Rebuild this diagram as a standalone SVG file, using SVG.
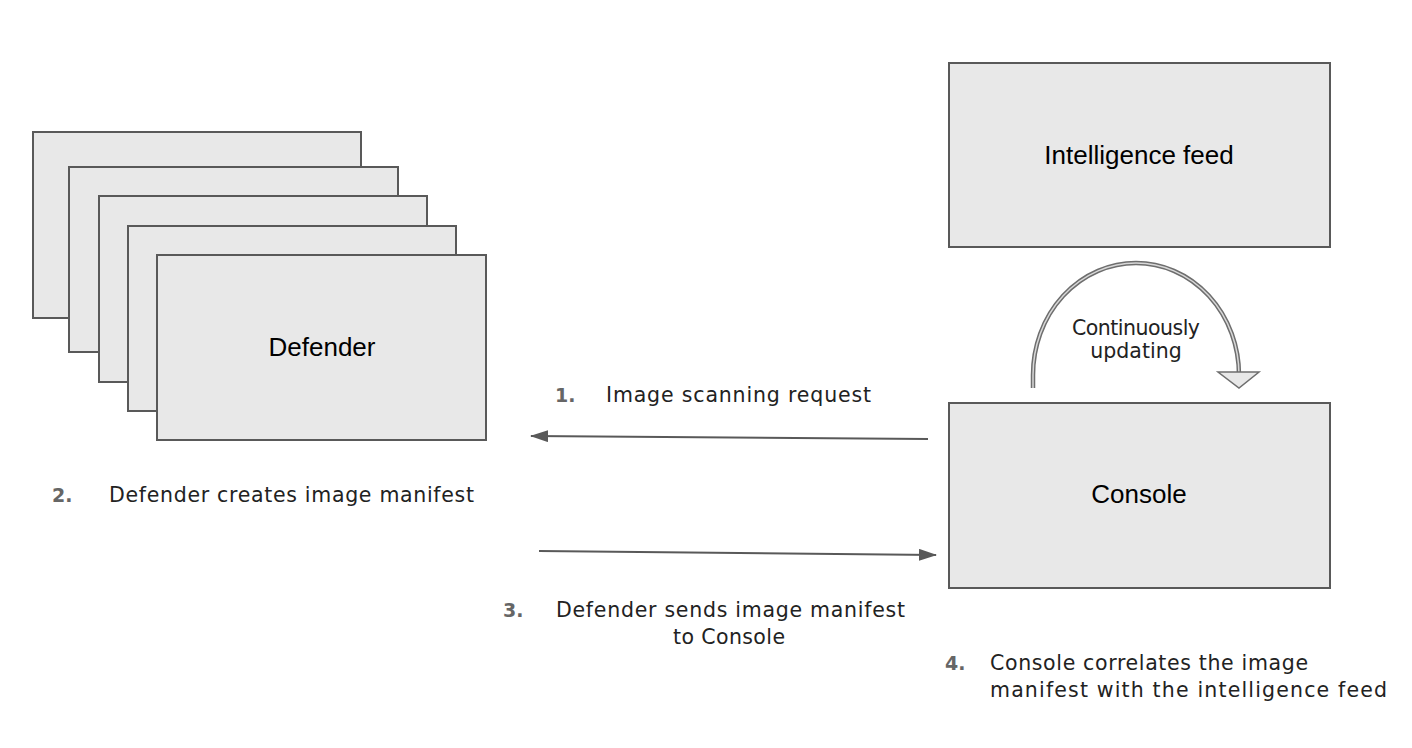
<svg xmlns="http://www.w3.org/2000/svg" width="1412" height="748" viewBox="0 0 1412 748">
<defs>
<style>
.box{fill:#e8e8e8;stroke:#595959;stroke-width:2}
.nl{font-family:"Liberation Sans",Arial,sans-serif;font-size:26px;fill:#000;text-anchor:middle}
.lbl{font-family:"DejaVu Sans","Open Sans",sans-serif;font-size:20.5px;fill:#222}
.num{font-family:"DejaVu Sans","Open Sans",sans-serif;font-size:19px;font-weight:bold;fill:#666}
.conn{stroke:#595959;stroke-width:2;fill:none}
</style>
<marker id="ah" markerWidth="18" markerHeight="12" refX="17" refY="6" orient="auto" markerUnits="userSpaceOnUse">
<path d="M0,0 L18,6 L0,12 Z" fill="#595959"/>
</marker>
</defs>
<rect width="1412" height="748" fill="#fff"/>
<g id="defender">
<rect class="box" x="33" y="132" width="328" height="186"/>
<rect class="box" x="69" y="167" width="329" height="185"/>
<rect class="box" x="99" y="196" width="328" height="186"/>
<rect class="box" x="128" y="226" width="328" height="185"/>
<rect class="box" x="157" y="255" width="329" height="185"/>
<text class="nl" x="322" y="356">Defender</text>
</g>
<g id="intel">
<rect class="box" x="949" y="63" width="381" height="184"/>
<text class="nl" x="1139" y="164">Intelligence feed</text>
</g>
<g id="console">
<rect class="box" x="949" y="403" width="381" height="185"/>
<text class="nl" x="1139" y="503">Console</text>
</g>
<g id="connectors">
<line class="conn" x1="928" y1="439" x2="531" y2="436" marker-end="url(#ah)"/>
<line class="conn" x1="539" y1="551" x2="936" y2="555" marker-end="url(#ah)"/>
<path d="M1033,388 L1033,375 A103,112 0 0 1 1239,375 L1239,372" fill="none" stroke="#6e6e6e" stroke-width="4.5"/>
<path d="M1033,388 L1033,375 A103,112 0 0 1 1239,375 L1239,373" fill="none" stroke="#d8d8d8" stroke-width="1.5"/>
<path d="M1218,372 L1259,372 L1239,388 Z" fill="#e8e8e8" stroke="#6e6e6e" stroke-width="1.5"/>
</g>
<g id="labels">
<text class="lbl" x="1136" y="335" text-anchor="middle" font-size="18" textLength="128">Continuously</text>
<text class="lbl" x="1136" y="358" text-anchor="middle" font-size="18">updating</text>
<text class="num" x="555" y="402">1.</text>
<text class="lbl" x="606" y="402" textLength="265">Image scanning request</text>
<text class="num" x="52" y="502">2.</text>
<text class="lbl" x="109" y="502" textLength="365">Defender creates image manifest</text>
<text class="num" x="503" y="617">3.</text>
<text class="lbl" x="556" y="617" textLength="349">Defender sends image manifest</text>
<text class="lbl" x="729" y="644" text-anchor="middle" textLength="112">to Console</text>
<text class="num" x="945" y="670">4.</text>
<text class="lbl" x="990" y="670" textLength="318">Console correlates the image</text>
<text class="lbl" x="990" y="697" textLength="397">manifest with the intelligence feed</text>
</g>
</svg>
